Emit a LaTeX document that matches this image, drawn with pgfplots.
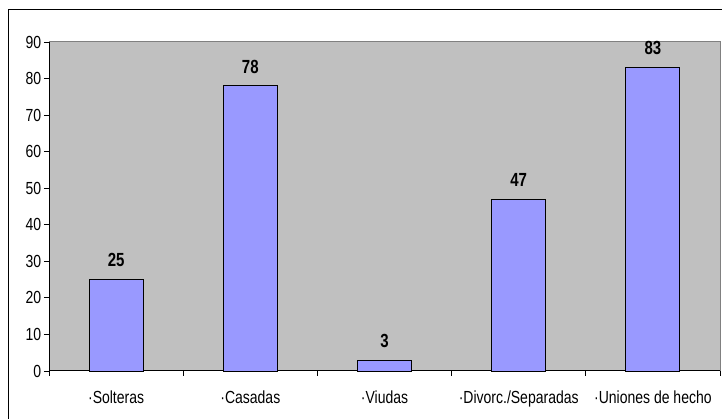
\documentclass[border=0pt]{standalone}
\usepackage{fontspec}
\setmainfont{Liberation Sans}
\usepackage{pgfplots}
\pgfplotsset{compat=1.18}
\definecolor{plotbg}{HTML}{C0C0C0}
\definecolor{barfill}{HTML}{9999FF}
\definecolor{framegray}{HTML}{808080}
\begin{document}
\begin{tikzpicture}[x=1pt,y=1pt]
\path[use as bounding box] (0,0) rectangle (722,419);
\draw[black,line width=1pt] (8,-20) -- (8,409) -- (740,409);
\begin{axis}[
  at={(49pt,48pt)}, anchor=south west,
  width=671pt, height=329pt, scale only axis,
  xmin=-0.5, xmax=4.5, ymin=0, ymax=90,
  ytick={0,10,...,90},
  xtick={0,1,2,3,4},
  xticklabels={·Solteras,·Casadas,·Viudas,·Divorc./Separadas,·Uniones de hecho},
  minor xtick={-0.5,0.5,1.5,2.5,3.5,4.5},
  major x tick style={draw=none},
  minor tick length=5pt,
  major tick length=5pt,
  tick align=outside,
  tick style={black, line width=0.8pt},
  axis lines*=left,
  axis line style={black, line width=1pt, -},
  axis background/.style={fill=plotbg},
  /pgf/number format/assume math mode=true,
  ticklabel style={font=\fontsize{17.5}{19}\selectfont, xscale=0.8},
  xticklabel style={yshift=-11pt},
  yticklabel style={xshift=0pt},
  ybar, bar width=54pt,
  nodes near coords,
  nodes near coords style={font=\bfseries\fontsize{19}{21}\selectfont, xscale=0.79, inner sep=0pt, anchor=south, yshift=12pt},
  clip=false,
]
\addplot[fill=barfill, draw=black, line width=0.9pt] coordinates {(0,25) (1,78) (2,3) (3,47) (4,83)};
\draw[framegray, line width=1pt] (rel axis cs:0,1) -- (rel axis cs:1,1) -- (rel axis cs:1,0);
\end{axis}
\end{tikzpicture}
\end{document}
